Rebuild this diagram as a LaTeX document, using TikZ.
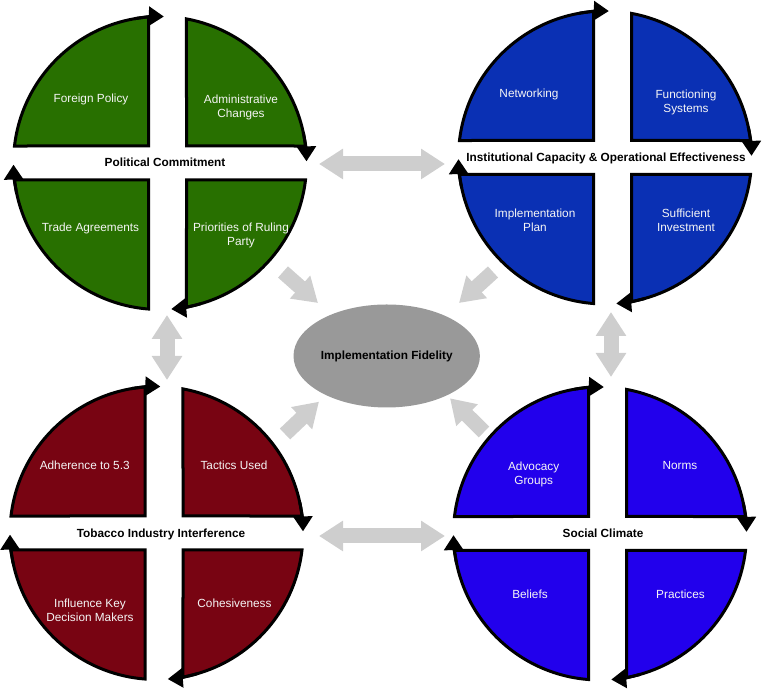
\documentclass[tikz,border=0pt]{standalone}
\usepackage{fontspec}
\setmainfont{Liberation Sans}
\usetikzlibrary{arrows.meta,shapes.geometric}
\definecolor{cgreen}{RGB}{40,112,0}
\definecolor{cnavy}{RGB}{10,48,180}
\definecolor{cviolet}{RGB}{34,0,236}
\definecolor{cmaroon}{RGB}{120,4,18}
\definecolor{cellipse}{RGB}{153,153,153}
\definecolor{carrow}{RGB}{206,206,206}
\definecolor{ctext}{RGB}{245,245,245}
\tikzset{
  quad/.style={draw=black, line width=3pt, line join=miter},
  cyclearrow/.style={line width=3pt, -{Triangle[length=15pt,width=19pt]}},
  qtext/.style={text=ctext, font=\fontsize{11.8}{14}\selectfont, align=center, anchor=north, inner sep=0pt},
  qlabel/.style={text=black, font=\fontsize{11.8}{14}\selectfont\bfseries, anchor=north, inner sep=0pt},
  biarrow/.style={draw=carrow, line width=15pt, {Triangle[length=24pt,width=29pt]}-{Triangle[length=24pt,width=29pt]}},
  uniarrow/.style={draw=carrow, line width=15pt, -{Triangle[length=24pt,width=29pt]}},
}
\newcommand{\fourquad}[1]{%
  \filldraw[quad, fill=#1] (-11.5,17) -- (173.34:146.5) arc[start angle=173.34,end angle=94.50,radius=146.5] -- cycle;
  \filldraw[quad, fill=#1] (26.5,17) -- (79.58:146.5) arc[start angle=79.58,end angle=6.66,radius=146.5] -- cycle;
  \filldraw[quad, fill=#1] (26.5,-17) -- (-6.66:146.5) arc[start angle=-6.66,end angle=-79.58,radius=146.5] -- cycle;
  \filldraw[quad, fill=#1] (-11.5,-17) -- (-94.50:146.5) arc[start angle=-94.50,end angle=-173.34,radius=146.5] -- cycle;
  \draw[cyclearrow] (100:146.5) arc[start angle=100,end angle=88.5,radius=146.5];
  \draw[cyclearrow] (12:146.5) arc[start angle=12,end angle=0.66,radius=146.5];
  \draw[cyclearrow] (-74:146.5) arc[start angle=-74,end angle=-85.58,radius=146.5];
  \draw[cyclearrow] (-168:146.5) arc[start angle=-168,end angle=-179.34,radius=146.5];
}
\begin{document}
\begin{tikzpicture}[x=1pt,y=1pt]
\useasboundingbox (0,0) rectangle (763,692);
% clusters
\begin{scope}[shift={(160,529)}]\fourquad{cgreen}\end{scope}
\begin{scope}[shift={(605,534.5)}]\fourquad{cnavy}\end{scope}
\begin{scope}[shift={(156.5,159)}]\fourquad{cmaroon}\end{scope}
\begin{scope}[shift={(600,158.5)}]\fourquad{cviolet}\end{scope}
% texts: political commitment
\node[qtext] (fp) at (91,598.3) {Foreign Policy};
\node[qtext] (ac) at (241,597.3) {Administrative\\Changes};
\node[qtext] (ta) at (90.5,469.3) {Trade Agreements};
\node[qtext] (pr) at (241,469.3) {Priorities of Ruling\\Party};
\node[qlabel] (pc) at (165,534.3) {Political Commitment};
% institutional capacity
\node[qtext] (nw) at (529,603.3) {Networking};
\node[qtext] (fs) at (686,602.3) {Functioning\\Systems};
\node[qtext] (ip) at (535,483.3) {Implementation\\Plan};
\node[qtext] (si) at (686,483.3) {Sufficient\\Investment};
\node[qlabel] (ic) at (606,539.3) {Institutional Capacity \& Operational Effectiveness};
% tobacco industry
\node[qtext] (ad) at (84.7,231.3) {Adherence to 5.3};
\node[qtext] (tu) at (234,231.3) {Tactics Used};
\node[qtext] (ik) at (90,93.6) {Influence Key\\Decision Makers};
\node[qtext] (co) at (234.5,93.6) {Cohesiveness};
\node[qlabel] (ti) at (161,163.3) {Tobacco Industry Interference};
% social climate
\node[qtext] (ag) at (533.7,230.6) {Advocacy\\Groups};
\node[qtext] (no) at (680,231.3) {Norms};
\node[qtext] (be) at (530,102.3) {Beliefs};
\node[qtext] (pa) at (680.5,102.3) {Practices};
\node[qlabel] (sc) at (603,163.3) {Social Climate};
% center
\node[ellipse, fill=cellipse, minimum width=180pt, minimum height=103pt, inner sep=0pt,
      font=\fontsize{11.8}{14}\selectfont\bfseries] (fid) at (386.7,336) {Implementation Fidelity};
% arrow end points
\coordinate (topL) at (319,528);   \coordinate (topR) at (445,528);
\coordinate (botL) at (319,156);   \coordinate (botR) at (445,156);
\coordinate (lvT) at (167,377);    \coordinate (lvB) at (167,312);
\coordinate (rvT) at (611,380);    \coordinate (rvB) at (611,315);
\coordinate (pcT) at (283,420);    \coordinate (pcH) at (318,389);
\coordinate (icT) at (493,420);    \coordinate (icH) at (459,389);
\coordinate (tiT) at (285,258);    \coordinate (tiH) at (319,290.3);
\coordinate (scT) at (484,260);    \coordinate (scH) at (450,293.7);
\draw[biarrow] (topL) -- (topR);
\draw[biarrow] (botL) -- (botR);
\draw[biarrow] (lvT) -- (lvB);
\draw[biarrow] (rvT) -- (rvB);
\draw[uniarrow] (pcT) -- (pcH);
\draw[uniarrow] (icT) -- (icH);
\draw[uniarrow] (tiT) -- (tiH);
\draw[uniarrow] (scT) -- (scH);
\end{tikzpicture}
\end{document}
